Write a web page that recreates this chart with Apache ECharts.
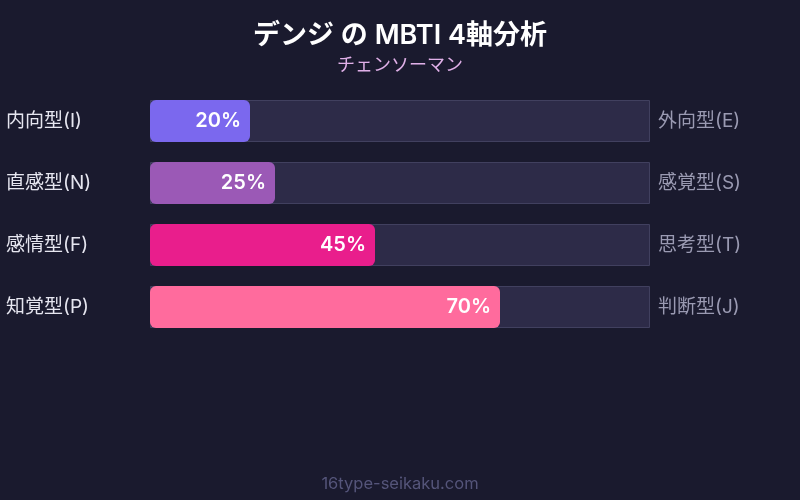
<!DOCTYPE html>
<html><head><meta charset="utf-8">
<script src="https://cdn.jsdelivr.net/npm/echarts@6/dist/echarts.min.js"></script>
<style>html,body{margin:0;padding:0;background:#1a1a2e;}#c{width:800px;height:500px;}</style>
</head><body><div id="c"></div>
<script>
const leftLabels = ['内向型(I)', '直感型(N)', '感情型(F)', '知覚型(P)'];
const rightLabels = ['外向型(E)', '感覚型(S)', '思考型(T)', '判断型(J)'];
const values = [20, 25, 45, 70];
const barColors = ['#7b68ee', '#9b59b6', '#e91e8c', '#ff6b9d'];
const fullScale = [100, 100, 100, 100];
const FONT = "Inter, 'Noto Sans CJK JP', sans-serif";

const chart = echarts.init(document.getElementById('c'), null, {renderer: 'canvas'});
chart.setOption({
  backgroundColor: '#1a1a2e',
  animation: false,
  title: [
    {text: 'デンジ の MBTI 4軸分析', left: 'center', top: 17,
     textStyle: {color: '#ffffff', fontSize: 27, fontWeight: 600, fontFamily: FONT}},
    {text: 'チェンソーマン', left: 'center', top: 52,
     textStyle: {color: '#e0b0e8', fontSize: 18, fontWeight: 'normal', fontFamily: FONT}},
    {text: '16type-seikaku.com', left: 'center', top: 471,
     textStyle: {color: '#55557a', fontSize: 16.5, fontWeight: 'normal', fontFamily: FONT}}
  ],
  grid: {left: 150, width: 500, top: 90, height: 248},
  xAxis: {type: 'value', min: 0, max: 100, show: false},
  yAxis: [
    {type: 'category', data: leftLabels, inverse: true, position: 'left',
     axisLine: {show: false}, axisTick: {show: false}, splitLine: {show: false},
     axisLabel: {align: 'left', margin: 144, color: '#e6e6f0', fontSize: 19, fontFamily: FONT}},
    {type: 'category', data: rightLabels, inverse: true, position: 'right',
     axisLine: {show: false}, axisTick: {show: false}, splitLine: {show: false},
     axisLabel: {align: 'left', margin: 8, color: '#9a9ab2', fontSize: 19, fontFamily: FONT}}
  ],
  series: [
    {type: 'bar', data: fullScale, barWidth: 42, barGap: '-100%', silent: true,
     itemStyle: {color: '#2d2b48', borderColor: '#41405f', borderWidth: 1}, z: 1},
    {type: 'bar', barWidth: 42, z: 2,
     data: values.map((v, i) => ({value: v, itemStyle: {color: barColors[i]}})),
     itemStyle: {borderRadius: 6},
     label: {show: true, position: 'insideRight', distance: 9, formatter: '{c}%',
       color: '#ffffff', fontSize: 20, fontWeight: 600, fontFamily: FONT}}
  ]
});
</script></body></html>
